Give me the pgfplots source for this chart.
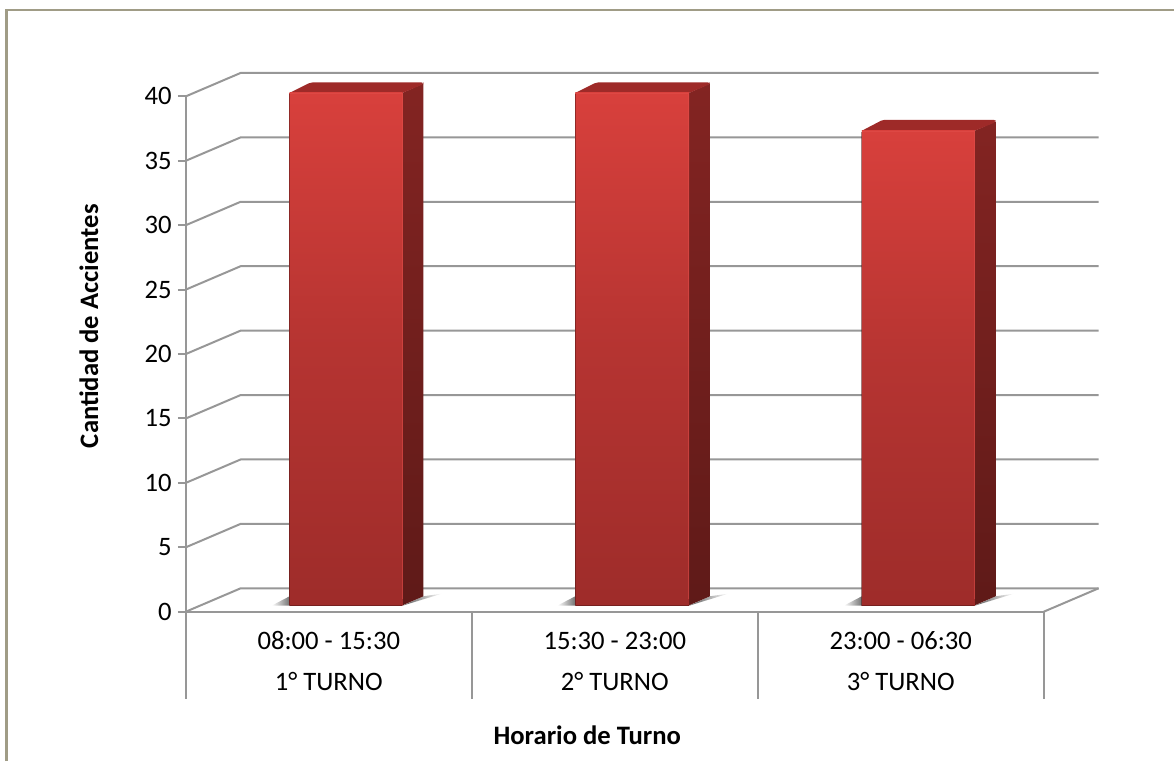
\documentclass[border=0pt]{standalone}
\usepackage{pgfplots}
\pgfplotsset{compat=1.18}
\usepackage{fontspec}
\setmainfont{Carlito}
\definecolor{gridc}{HTML}{979797}
\definecolor{framec}{HTML}{A09C86}
\definecolor{fronttop}{HTML}{D8403C}
\definecolor{frontbot}{HTML}{9E2C2A}
\definecolor{sidetop}{HTML}{832422}
\definecolor{sidebot}{HTML}{5F1A18}
\definecolor{topf}{HTML}{9E2A28}
\definecolor{edgec}{HTML}{E2504C}
\begin{document}
\begin{tikzpicture}
\path (0pt,0pt) rectangle (881.25pt,571.5pt);
\draw[framec,line width=2.2pt] (4.8pt,0pt) -- (4.8pt,564pt) -- (881.25pt,564pt);
\begin{axis}[
  at={(139.5pt,112.125pt)}, anchor=south west,
  scale only axis, width=644.25pt, height=387pt,
  xmin=0, xmax=3, ymin=0, ymax=40,
  clip=false,
  axis lines=left,
  axis line style={-,gridc,line width=1.5pt},
  tick align=outside,
  major tick length=6pt,
  x tick style={draw=none},
  y tick style={gridc,line width=1.5pt},
  xtick={0.5,1.5,2.5},
  xticklabels={{\strut 08:00 - 15:30\\\strut 1° TURNO},{\strut 15:30 - 23:00\\\strut 2° TURNO},{\strut 23:00 - 06:30\\\strut 3° TURNO}},
  ytick={0,5,...,40},
  /pgf/number format/assume math mode=true,
  tick label style={font=\fontsize{20}{31.5}\selectfont},
  xticklabel style={align=center,yshift=3.6pt},
  yticklabel style={xshift=-1pt},
  xlabel={\textbf{Horario de Turno}},
  ylabel={\textbf{Cantidad de Accientes}},
  label style={font=\fontsize{20}{24}\selectfont},
  xlabel style={at={(axis description cs:0.468,-0.239)},anchor=center},
  ylabel style={at={(axis description cs:-0.113,0.554)},anchor=center},
  grid=none,
]
% back wall and side wall gridlines
\pgfplotsinvokeforeach{0,5,...,40}{
  \addplot[gridc,line width=1.5pt,line join=round] table[row sep=crcr,x=x,y expr=\thisrow{d}+#1] {x d\\ 0 0\\ 0.192 1.82\\ 3.192 1.82\\};
}
% floor, right edge
\addplot[gridc,line width=1.5pt] coordinates {(3,0) (3.192,1.82)};
% category separators
\addplot[gridc,line width=1.5pt] coordinates {(0,0) (0,-6.75)};
\addplot[gridc,line width=1.5pt] coordinates {(1,0) (1,-6.75)};
\addplot[gridc,line width=1.5pt] coordinates {(2,0) (2,-6.75)};
\addplot[gridc,line width=1.5pt] coordinates {(3,0) (3,-6.75)};
% shadows
\addplot[draw=none,left color=white,right color=black!55] coordinates {(0.300,0.47) (0.363,0.47) (0.363,1.2)};
\addplot[draw=none,left color=black!65,right color=white] coordinates {(0.758,0.47) (0.831,1.2) (0.895,1.4)};
\addplot[draw=none,left color=white,right color=black!55] coordinates {(1.299,0.47) (1.362,0.47) (1.362,1.2)};
\addplot[draw=none,left color=black!65,right color=white] coordinates {(1.760,0.47) (1.833,1.2) (1.897,1.4)};
\addplot[draw=none,left color=white,right color=black!55] coordinates {(2.301,0.47) (2.364,0.47) (2.364,1.2)};
\addplot[draw=none,left color=black!65,right color=white] coordinates {(2.759,0.47) (2.832,1.2) (2.896,1.4)};
% bar 1: 40
\addplot[draw=none,top color=sidetop,bottom color=sidebot] coordinates {(0.758,0.50) (0.831,1.2) (0.831,41.0) (0.758,40.27)};
\addplot[draw=none,fill=topf,rounded corners=1.5pt] coordinates {(0.363,40.27) (0.436,41.08) (0.831,41.08) (0.831,40.95) (0.758,40.27)};
\addplot[draw=none,top color=fronttop,bottom color=frontbot,middle color=frontbot!60!fronttop] coordinates {(0.363,0.50) (0.758,0.50) (0.758,40.27) (0.363,40.27)};
\addplot[edgec,line width=0.6pt,opacity=0.5] coordinates {(0.363,40.24) (0.756,40.24) (0.756,1.0)};
\addplot[black!50!frontbot,line width=0.5pt,opacity=0.5] coordinates {(0.363,40.2) (0.363,0.50) (0.756,0.50)};
% bar 2: 40
\addplot[draw=none,top color=sidetop,bottom color=sidebot] coordinates {(1.760,0.50) (1.833,1.2) (1.833,41.0) (1.760,40.27)};
\addplot[draw=none,fill=topf,rounded corners=1.5pt] coordinates {(1.362,40.27) (1.435,41.08) (1.833,41.08) (1.833,40.95) (1.760,40.27)};
\addplot[draw=none,top color=fronttop,bottom color=frontbot,middle color=frontbot!60!fronttop] coordinates {(1.362,0.50) (1.760,0.50) (1.760,40.27) (1.362,40.27)};
\addplot[edgec,line width=0.6pt,opacity=0.5] coordinates {(1.362,40.24) (1.758,40.24) (1.758,1.0)};
\addplot[black!50!frontbot,line width=0.5pt,opacity=0.5] coordinates {(1.362,40.2) (1.362,0.50) (1.758,0.50)};
% bar 3: 37
\addplot[draw=none,top color=sidetop,bottom color=sidebot] coordinates {(2.759,0.50) (2.832,1.2) (2.832,38.05) (2.759,37.33)};
\addplot[draw=none,fill=topf,rounded corners=1.5pt] coordinates {(2.364,37.33) (2.437,38.18) (2.832,38.18) (2.832,38.0) (2.759,37.33)};
\addplot[draw=none,top color=fronttop,bottom color=frontbot,middle color=frontbot!60!fronttop] coordinates {(2.364,0.50) (2.759,0.50) (2.759,37.33) (2.364,37.33)};
\addplot[edgec,line width=0.6pt,opacity=0.5] coordinates {(2.364,37.30) (2.757,37.30) (2.757,1.0)};
\addplot[black!50!frontbot,line width=0.5pt,opacity=0.5] coordinates {(2.364,37.27) (2.364,0.50) (2.757,0.50)};
\end{axis}
\end{tikzpicture}
\end{document}
